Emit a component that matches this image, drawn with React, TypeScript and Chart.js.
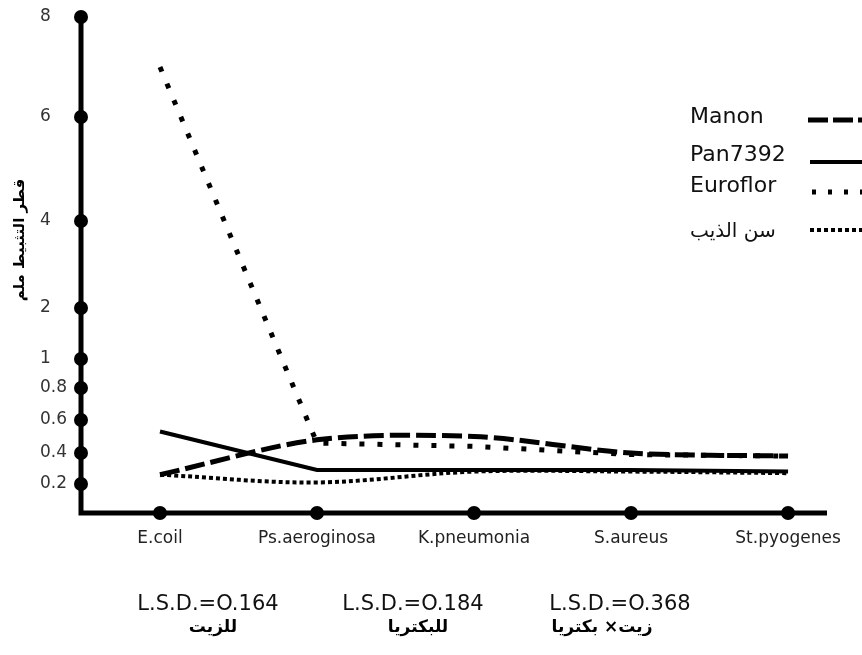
import React, { useEffect, useRef } from 'react';
import { Chart, registerables, LinearScale } from 'chart.js';

// ---- data ----
const categories = ['E.coil', 'Ps.aeroginosa', 'K.pneumonia', 'S.aureus', 'St.pyogenes'];
const manon = [0.26, 0.48, 0.5, 0.4, 0.38];
const pan7392 = [0.53, 0.29, 0.29, 0.29, 0.28];
const euroflor = [7.0, 0.46, 0.44, 0.39, 0.38];
const sinAlDhib = [0.26, 0.21, 0.28, 0.28, 0.27];
const seriesNames = ['Manon', 'Pan7392', 'Euroflor', 'سن الذيب'];
const yTicks = [0.2, 0.4, 0.6, 0.8, 1, 2, 4, 6, 8];
const yTitle = 'قطر التثبيط ملم';
const lsdValues = ['L.S.D.=O.164', 'L.S.D.=O.184', 'L.S.D.=O.368'];
const lsdLabels = ['للزيت', 'للبكتريا', 'زيت× بكتريا'];

// ---- non-linear (piecewise) value axis as drawn in the original figure ----
const BREAKS = [0, 0.2, 0.4, 0.6, 0.8, 1, 2, 4, 6, 8];
const FRACS = [0, 29, 60, 93, 125, 154, 205, 292, 396, 496].map((v) => v / 496);

class PiecewiseScale extends LinearScale {
  static id = 'piecewise';
  static defaults = LinearScale.defaults;
  getPixelForValue(value: number) {
    const n = BREAKS.length;
    const v = Math.max(BREAKS[0], Math.min(value, BREAKS[n - 1]));
    let i = 0;
    while (i < n - 2 && v > BREAKS[i + 1]) i++;
    const f = FRACS[i] + ((v - BREAKS[i]) / (BREAKS[i + 1] - BREAKS[i])) * (FRACS[i + 1] - FRACS[i]);
    return this.bottom - f * (this.bottom - this.top);
  }
  getValueForPixel(pixel: number) {
    const f = (this.bottom - pixel) / (this.bottom - this.top);
    const n = FRACS.length;
    let i = 0;
    while (i < n - 2 && f > FRACS[i + 1]) i++;
    return BREAKS[i] + ((f - FRACS[i]) / (FRACS[i + 1] - FRACS[i])) * (BREAKS[i + 1] - BREAKS[i]);
  }
}

Chart.register(...registerables, PiecewiseScale as any);

const FONT = '"DejaVu Sans", sans-serif';

const decor = {
  id: 'decor',
  beforeDatasetsDraw(chart: any) {
    const ctx = chart.ctx;
    const { left, right, top, bottom } = chart.chartArea;
    const xs = chart.scales.x;
    const ys = chart.scales.y;
    ctx.save();
    ctx.strokeStyle = '#000';
    ctx.fillStyle = '#000';
    ctx.lineWidth = 5;
    ctx.beginPath();
    ctx.moveTo(left, top);
    ctx.lineTo(left, bottom);
    ctx.lineTo(right, bottom);
    ctx.stroke();
    const dot = (x: number, y: number) => {
      ctx.beginPath();
      ctx.arc(x, y, 7, 0, Math.PI * 2);
      ctx.fill();
    };
    yTicks.forEach((t) => dot(left, ys.getPixelForValue(t)));
    categories.forEach((_, i) => dot(xs.getPixelForValue(i), bottom));
    ctx.restore();
  },
  afterDraw(chart: any) {
    const ctx = chart.ctx;
    ctx.save();
    // legend
    const rows = [
      { ty: 117, sy: 120, x0: 808 },
      { ty: 155, sy: 162, x0: 810 },
      { ty: 186, sy: 192, x0: 812 },
      { ty: 232, sy: 230, x0: 810 },
    ];
    const legendDash = [[20, 5], [], [4, 12], [4, 3]];
    rows.forEach((r, i) => {
      const ds = chart.data.datasets[i];
      ctx.fillStyle = '#111';
      ctx.textAlign = 'left';
      ctx.textBaseline = 'middle';
      ctx.font = i === 3 ? `20px ${FONT}` : `22px ${FONT}`;
      ctx.fillText(seriesNames[i], 690, r.ty);
      ctx.strokeStyle = ds.borderColor;
      ctx.lineWidth = ds.borderWidth;
      ctx.setLineDash(legendDash[i]);
      ctx.beginPath();
      ctx.moveTo(r.x0, r.sy);
      ctx.lineTo(862, r.sy);
      ctx.stroke();
    });
    ctx.setLineDash([]);
    // y axis title
    ctx.save();
    ctx.translate(20, 240);
    ctx.rotate(-Math.PI / 2);
    ctx.fillStyle = '#000';
    ctx.font = `bold 15px ${FONT}`;
    ctx.textAlign = 'center';
    ctx.textBaseline = 'middle';
    ctx.fillText(yTitle, 0, 0);
    ctx.restore();
    // L.S.D. notes
    const cx = [208, 413, 620];
    const ax = [213, 418, 602];
    lsdValues.forEach((t, i) => {
      ctx.fillStyle = '#111';
      ctx.textAlign = 'center';
      ctx.textBaseline = 'middle';
      ctx.font = `21px ${FONT}`;
      ctx.fillText(t, cx[i], 605);
      ctx.fillStyle = '#000';
      ctx.font = `bold 17px ${FONT}`;
      ctx.fillText(lsdLabels[i], ax[i], 628);
    });
    ctx.restore();
  },
};

export default function App() {
  const ref = useRef<HTMLCanvasElement | null>(null);
  useEffect(() => {
    if (!ref.current) return;
    const mk = (d: number[]) => d.map((y, i) => ({ x: i, y }));
    const chart = new Chart(ref.current, {
      type: 'line',
      data: {
        datasets: [
          { label: seriesNames[0], data: mk(manon), borderColor: '#000', borderWidth: 5, borderDash: [20, 6], tension: 0.3, pointRadius: 0 },
          { label: seriesNames[1], data: mk(pan7392), borderColor: '#000', borderWidth: 4, tension: 0, pointRadius: 0 },
          { label: seriesNames[2], data: mk(euroflor), borderColor: '#000', borderWidth: 5, borderDash: [5, 13], tension: 0, pointRadius: 0 },
          { label: seriesNames[3], data: mk(sinAlDhib), borderColor: '#000', borderWidth: 4, borderDash: [4, 3], tension: 0.35, pointRadius: 0 },
        ],
      },
      options: {
        responsive: false,
        animation: false,
        layout: { padding: { left: 40, top: 17, right: 35, bottom: 0 } },
        plugins: { legend: { display: false }, tooltip: { enabled: false } },
        scales: {
          x: {
            type: 'linear',
            min: -0.503,
            max: 4.248,
            grid: { display: false, drawTicks: false },
            border: { display: false },
            afterBuildTicks: (s: any) => {
              s.ticks = categories.map((_, i) => ({ value: i }));
            },
            afterFit: (s: any) => {
              s.height = 142;
            },
            ticks: {
              autoSkip: false,
              maxRotation: 0,
              padding: 15,
              color: '#222',
              font: { family: FONT, size: 17 },
              callback: (v: any) => categories[Math.round(v)] ?? '',
            },
          },
          y: {
            type: 'piecewise' as any,
            min: 0,
            max: 8,
            grid: { display: false, drawTicks: false },
            border: { display: false },
            afterBuildTicks: (s: any) => {
              s.ticks = yTicks.map((v) => ({ value: v }));
            },
            afterFit: (s: any) => {
              s.width = 41;
            },
            ticks: {
              autoSkip: false,
              crossAlign: 'far',
              color: '#333',
              font: { family: FONT, size: 17 },
              callback: (v: any) => String(v),
            },
          },
        },
      },
      plugins: [decor],
    } as any);
    return () => chart.destroy();
  }, []);
  return (
    <div style={{ position: 'fixed', left: 0, top: 0, width: 862, height: 655, background: '#fff' }}>
      <canvas ref={ref} width={862} height={655} style={{ display: 'block' }} />
    </div>
  );
}
